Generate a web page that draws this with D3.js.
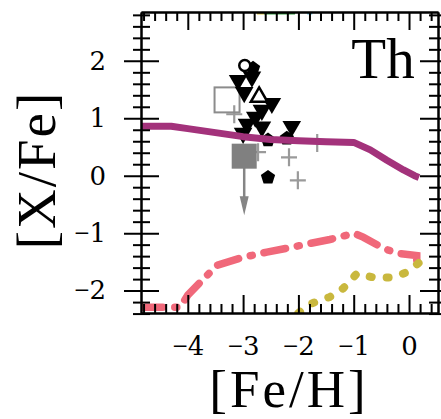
<!DOCTYPE html>
<html><head><meta charset="utf-8">
<script src="https://cdn.jsdelivr.net/npm/d3@7"></script>
<style>body{margin:0;background:#fff}svg{display:block}</style>
</head><body>
<svg id="c" width="441" height="419"></svg>
<script>
// ---- data ----
const xTicks = [-4, -3, -2, -1, 0];
const yTicks = [-2, -1, 0, 1, 2];
const magentaX = [-4.85, -4.3, -4.0, -3.5, -3.0, -2.5, -2.0, -1.5, -1.0, -0.7, -0.4, -0.1, 0.1, 0.18];
const magentaY = [0.86, 0.86, 0.82, 0.75, 0.68, 0.63, 0.61, 0.59, 0.58, 0.45, 0.27, 0.1, 0.0, -0.03];
const pinkX = [-4.85, -4.14, -4.0, -3.74, -3.47, -3.0, -2.57, -2.2, -1.79, -1.43, -1.07, -1.0, -0.83, -0.47, -0.22, 0.14, 0.14];
const pinkY = [-2.29, -2.29, -2.08, -1.82, -1.56, -1.42, -1.33, -1.26, -1.18, -1.11, -1.02, -1.0, -1.07, -1.26, -1.35, -1.39, -1.47];
const yellowX = [-2.0, -1.75, -1.43, -1.19, -0.94, -0.65, -0.29, -0.04, 0.2];
const yellowY = [-2.39, -2.22, -2.11, -1.96, -1.7, -1.77, -1.77, -1.68, -1.5];
// curves leaving the top of the frame (only a sliver shows)
const topYellowX = [-2.75, -2.62];
const topGreenX = [-2.62, -2.06];
const topCyanX = [-1.84, -1.75];
const triDownX = [-3.09, -2.84, -2.98, -2.66, -2.78, -2.93, -2.66, -3.0, -2.12, -2.48];
const triDownY = [1.66, 1.72, 1.45, 1.14, 1.02, 0.90, 0.85, 0.74, 0.86, 1.26];
const pentX = [-2.82, -2.55, -2.55, -2.21];
const pentY = [1.87, 0.62, -0.03, 0.65];
const circX = [-2.97], circY = [1.92];
const triUpX = [-2.71], triUpY = [1.37];
const openSqX = [-3.29], openSqY = [1.32];
const fillSqX = [-2.98], fillSqY = [0.34], fillSqLimit = [-0.69];
const plusX = [-3.16, -1.66, -2.17, -2.01, -2.73];
const plusY = [1.07, 0.57, 0.32, -0.08, 0.41];

// ---- layout ----
const svg = d3.select("#c");
const L = 141, R = 438, T = 12, B = 313;
const x = d3.scaleLinear().domain([-4.846, 0.524]).range([L, R]);
const y = d3.scaleLinear().domain([-2.39, 2.85]).range([B, T]);
const serif = "'Liberation Serif', 'Times New Roman', serif";
const numFont = "'DejaVu Serif', serif";

svg.append("clipPath").attr("id", "clip").append("rect")
  .attr("x", L).attr("y", T).attr("width", R - L).attr("height", B - T);
const plot = svg.append("g").attr("clip-path", "url(#clip)");

const isMinor = d => Math.abs(d * 5 - Math.round(d * 5)) < 1e-6 && Math.abs(d - Math.round(d)) > 1e-6;
const minorX = d3.range(-48, 6).map(d => d / 10).filter(isMinor);
const minorY = d3.range(-24, 29).map(d => d / 10).filter(isMinor);

function styleAxis(g) {
  g.select(".domain").attr("stroke", "#000").attr("stroke-width", 2);
  g.selectAll(".tick line").attr("stroke", "#000").attr("stroke-width", 2);
}
function styleLabels(sel) {
  sel.attr("font-family", numFont).attr("font-size", 26).attr("fill", "#000")
    .text(null)
    .each(function (d) {
      const t = d3.select(this);
      if (d < 0) t.append("tspan").attr("font-family", serif).attr("font-size", 27).text("\u2212");
      t.append("tspan").text(Math.abs(d));
    });
}
// bottom
svg.append("g").attr("transform", `translate(0,${B})`)
  .call(d3.axisBottom(x).tickValues(minorX).tickSize(-9).tickFormat("").tickSizeOuter(0)).call(styleAxis);
const bx = svg.append("g").attr("transform", `translate(0,${B})`)
  .call(d3.axisBottom(x).tickValues(xTicks).tickSize(-18).tickPadding(24).tickSizeOuter(0)).call(styleAxis);
bx.selectAll("text").call(styleLabels);
// top
svg.append("g").attr("transform", `translate(0,${T})`)
  .call(d3.axisTop(x).tickValues(minorX).tickSize(-9).tickFormat("").tickSizeOuter(0)).call(styleAxis);
svg.append("g").attr("transform", `translate(0,${T})`)
  .call(d3.axisTop(x).tickValues(xTicks).tickSize(-18).tickFormat("").tickSizeOuter(0)).call(styleAxis);
// left (ticks cross the line)
svg.append("g").attr("transform", `translate(${L},0)`)
  .call(d3.axisLeft(y).tickValues(minorY).tickSize(8).tickFormat("").tickSizeOuter(0)).call(styleAxis)
  .selectAll(".tick line").attr("x2", -8).attr("x1", 9);
const ly = svg.append("g").attr("transform", `translate(${L},0)`)
  .call(d3.axisLeft(y).tickValues(yTicks).tickSize(17).tickPadding(18).tickSizeOuter(0)).call(styleAxis);
ly.selectAll(".tick line").attr("x2", -17).attr("x1", 18);
ly.selectAll("text").call(styleLabels);
// right
svg.append("g").attr("transform", `translate(${R},0)`)
  .call(d3.axisRight(y).tickValues(minorY).tickSize(8).tickFormat("").tickSizeOuter(0)).call(styleAxis)
  .selectAll(".tick line").attr("x2", 8).attr("x1", -9);
svg.append("g").attr("transform", `translate(${R},0)`)
  .call(d3.axisRight(y).tickValues(yTicks).tickSize(17).tickFormat("").tickSizeOuter(0)).call(styleAxis)
  .selectAll(".tick line").attr("x2", 17).attr("x1", -18);

// ---- markers ----
const zip = (a, b) => a.map((v, i) => [v, b[i]]);
const sym = (type, size) => d3.symbol().type(type).size(size)();

// plus signs
plot.selectAll(".plus").data(zip(plusX, plusY)).join("path")
  .attr("transform", d => `translate(${x(d[0])},${y(d[1])})`)
  .attr("d", "M-8,0H8M0,-9V9").attr("stroke", "#9a9a9a").attr("stroke-width", 2.2).attr("fill", "none");
// open square
plot.selectAll(".osq").data(zip(openSqX, openSqY)).join("rect")
  .attr("x", d => x(d[0]) - 12.5).attr("y", d => y(d[1]) - 12.5).attr("width", 25).attr("height", 25)
  .attr("fill", "none").attr("stroke", "#8c8c8c").attr("stroke-width", 2);
// filled square with upper-limit arrow
const fsq = zip(fillSqX, fillSqY).map((d, i) => [d[0], d[1], fillSqLimit[i]]);
plot.selectAll(".arr").data(fsq).join("line")
  .attr("x1", d => x(d[0])).attr("x2", d => x(d[0])).attr("y1", d => y(d[1])).attr("y2", d => y(d[2]) - 10)
  .attr("stroke", "#858585").attr("stroke-width", 2.5);
plot.selectAll(".arrh").data(fsq).join("path")
  .attr("d", d => `M${x(d[0]) - 4.5},${y(d[2]) - 19}L${x(d[0]) + 4.5},${y(d[2]) - 19}L${x(d[0])},${y(d[2])}Z`)
  .attr("fill", "#858585");
plot.selectAll(".fsq").data(fsq).join("rect")
  .attr("x", d => x(d[0]) - 12.5).attr("y", d => y(d[1]) - 12.5).attr("width", 25).attr("height", 25)
  .attr("fill", "#808080");
// down triangles
plot.selectAll(".td").data(zip(triDownX, triDownY)).join("path")
  .attr("transform", d => `translate(${x(d[0])},${y(d[1])}) rotate(180)`)
  .attr("d", sym(d3.symbolTriangle, 150)).attr("fill", "#000");
// pentagons
const pent = d3.range(5).map(i => { const a = -Math.PI / 2 + i * 2 * Math.PI / 5; return [7.5 * Math.cos(a), 7.5 * Math.sin(a)]; });
plot.selectAll(".pt").data(zip(pentX, pentY)).join("path")
  .attr("transform", d => `translate(${x(d[0])},${y(d[1])})`)
  .attr("d", "M" + pent.join("L") + "Z").attr("fill", "#000");
// open circle
plot.selectAll(".oc").data(zip(circX, circY)).join("circle")
  .attr("cx", d => x(d[0])).attr("cy", d => y(d[1])).attr("r", 5.5)
  .attr("fill", "#fff").attr("stroke", "#000").attr("stroke-width", 2.5);
// open up-triangle
plot.selectAll(".tu").data(zip(triUpX, triUpY)).join("path")
  .attr("transform", d => `translate(${x(d[0])},${y(d[1])})`)
  .attr("d", sym(d3.symbolTriangle, 120)).attr("fill", "#fff").attr("stroke", "#000").attr("stroke-width", 2.5);

// ---- model curves ----
const line = d3.line().x(d => x(d[0])).y(d => y(d[1]));
plot.append("path").attr("d", line(zip(magentaX, magentaY))).attr("fill", "none")
  .attr("stroke", "#a3327b").attr("stroke-width", 7).attr("stroke-linejoin", "round");
plot.append("path").attr("d", line(zip(pinkX, pinkY))).attr("fill", "none")
  .attr("stroke", "#f0687a").attr("stroke-width", 7.5).attr("stroke-linecap", "round")
  .attr("stroke-dasharray", "22,12,2,12");
plot.append("path").attr("d", line(zip(yellowX, yellowY))).attr("fill", "none")
  .attr("stroke", "#c9b83e").attr("stroke-width", 8).attr("stroke-linecap", "round")
  .attr("stroke-dasharray", "2,15");
const topY = 2.85;
[[topYellowX, "#d9c240"], [topGreenX, "#2e9a3c"], [topCyanX, "#62c6ea"]].forEach(([xs, c]) => {
  plot.append("path").attr("d", line(xs.map(v => [v, topY]))).attr("fill", "none")
    .attr("stroke", c).attr("stroke-width", 5);
});

// ---- texts ----
svg.append("text").attr("x", 383).attr("y", 78).attr("text-anchor", "middle")
  .attr("font-family", serif).attr("font-size", 57).text("Th");
svg.append("text").attr("x", 289).attr("y", 407).attr("text-anchor", "middle")
  .attr("font-family", serif).attr("font-size", 53).attr("letter-spacing", 3).text("[Fe/H]");
svg.append("text").attr("transform", "translate(55,170) rotate(-90)").attr("text-anchor", "middle")
  .attr("font-family", serif).attr("font-size", 55).attr("letter-spacing", 2).text("[X/Fe]");
</script>
</body></html>
